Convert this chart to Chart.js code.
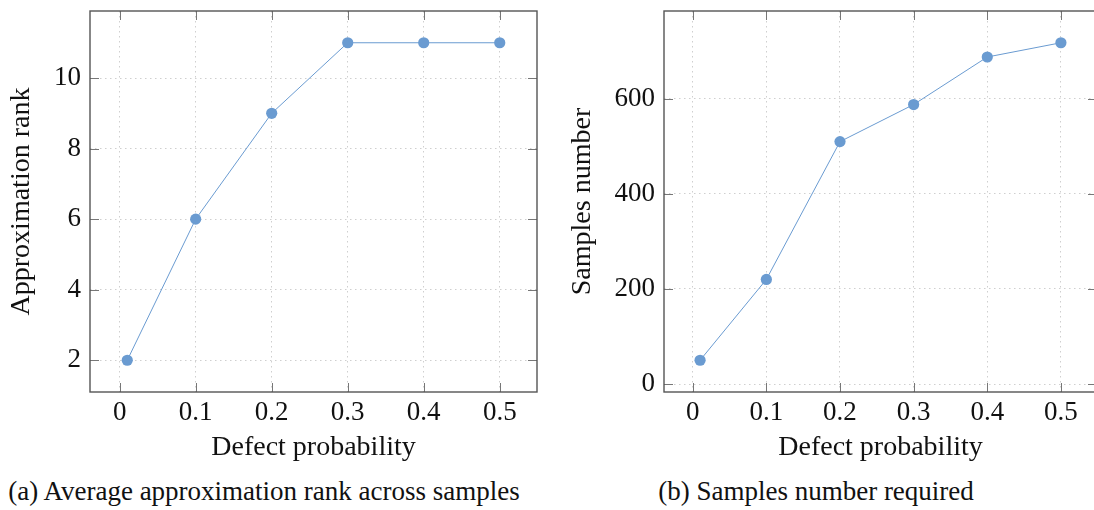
<!DOCTYPE html>
<html>
<head>
<meta charset="utf-8">
<title>Defect probability plots</title>
<script src="https://cdn.jsdelivr.net/npm/chart.js@4"></script>
<style>
  html, body { margin: 0; padding: 0; background: #fff; overflow: hidden; }
  #page { position: relative; width: 1094px; height: 510px; overflow: hidden; }
  canvas { position: absolute; top: 0; }
  #rankChart { left: 0; }
  #samplesChart { left: 560px; }
  .caption {
    position: absolute;
    top: 476px;
    font-family: "Liberation Serif", serif;
    font-size: 27px;
    color: #111;
    white-space: nowrap;
    transform: translateX(-50%);
  }
</style>
</head>
<body>
<div id="page">
  <canvas id="rankChart" width="550" height="470"></canvas>
  <canvas id="samplesChart" width="550" height="470"></canvas>
  <div class="caption" style="left:264px">(a) Average approximation rank across samples</div>
  <div class="caption" style="left:816px">(b) Samples number required</div>
</div>
<script>
// ----- Data -----
const defectProb = [0.01, 0.1, 0.2, 0.3, 0.4, 0.5];
const rankValues = [2, 6, 9, 11, 11, 11];
const sampleValues = [50, 220, 510, 588, 688, 718];

const xTicks = [0, 0.1, 0.2, 0.3, 0.4, 0.5];
const rankTicks = [2, 4, 6, 8, 10];
const sampleTicks = [0, 200, 400, 600];

// ----- Style -----
const lineColor = "#6a9bd1";
const fontFamily = "'Liberation Serif', 'DejaVu Serif', serif";
const textColor = "#111";
const tickSize = 27;
const titleSize = 28;

// axis limits padded by 10% of the data range on each side
function enlarge(values) {
  const lo = Math.min(...values);
  const hi = Math.max(...values);
  const pad = 0.1 * (hi - lo);
  return { min: lo - pad, max: hi + pad };
}

// fixed axis box, no extra room reserved for overhanging labels
function fixAxis(s, size) {
  if (s.isHorizontal()) s.height = size; else s.width = size;
  s.paddingLeft = s.paddingRight = s.paddingTop = s.paddingBottom = 0;
}

// box frame plus short tick marks drawn inward on all four sides
const boxFrame = {
  id: "boxFrame",
  beforeDatasetsDraw(chart) {
    const { ctx, chartArea: a, scales } = chart;
    const len = 9;
    ctx.save();
    ctx.strokeStyle = "#777";
    ctx.lineWidth = 1;
    ctx.beginPath();
    scales.x.ticks.forEach(t => {
      const px = Math.round(scales.x.getPixelForValue(t.value)) + 0.5;
      ctx.moveTo(px, a.top); ctx.lineTo(px, a.top + len);
      ctx.moveTo(px, a.bottom); ctx.lineTo(px, a.bottom - len);
    });
    scales.y.ticks.forEach(t => {
      const py = Math.round(scales.y.getPixelForValue(t.value)) + 0.5;
      ctx.moveTo(a.left, py); ctx.lineTo(a.left + len, py);
      ctx.moveTo(a.right, py); ctx.lineTo(a.right - len, py);
    });
    ctx.stroke();
    ctx.restore();
  },
  afterDraw(chart) {
    const { ctx, chartArea: a } = chart;
    ctx.save();
    ctx.strokeStyle = "#555";
    ctx.lineWidth = 1.4;
    ctx.strokeRect(a.left, a.top, a.right - a.left, a.bottom - a.top);
    ctx.restore();
  }
};

function makeChart(canvasId, yValues, yTicks, yTitle, yAxisWidth, yTitlePad) {
  const xLim = enlarge(defectProb);
  const yLim = enlarge(yValues);
  const ctx = document.getElementById(canvasId).getContext("2d");
  return new Chart(ctx, {
    type: "scatter",
    data: {
      datasets: [{
        data: defectProb.map((p, i) => ({ x: p, y: yValues[i] })),
        showLine: true,
        borderColor: lineColor,
        backgroundColor: lineColor,
        borderWidth: 1,
        pointRadius: 5.6,
        pointBorderWidth: 0,
        clip: false
      }]
    },
    options: {
      responsive: false,
      animation: false,
      devicePixelRatio: 1,
      layout: { padding: { top: 11, right: 13, bottom: 0, left: 0 } },
      plugins: { legend: { display: false }, tooltip: { enabled: false } },
      scales: {
        x: {
          type: "linear",
          min: xLim.min,
          max: xLim.max,
          afterBuildTicks: s => { s.ticks = xTicks.map(v => ({ value: v })); },
          afterFit: s => fixAxis(s, 78),
          grid: { color: "#cfcfcf", lineWidth: 1, drawTicks: false },
          border: { display: false, dash: [1.5, 3.5] },
          ticks: {
            padding: 5,
            color: textColor,
            font: { family: fontFamily, size: tickSize },
            maxRotation: 0,
            callback: v => String(v)
          },
          title: {
            display: true,
            text: "Defect probability",
            color: textColor,
            font: { family: fontFamily, size: titleSize },
            padding: { top: 0, bottom: 6 }
          }
        },
        y: {
          min: yLim.min,
          max: yLim.max,
          afterBuildTicks: s => { s.ticks = yTicks.map(v => ({ value: v })); },
          afterFit: s => fixAxis(s, yAxisWidth),
          grid: { color: "#cfcfcf", lineWidth: 1, drawTicks: false },
          border: { display: false, dash: [1.5, 3.5] },
          ticks: {
            padding: 9,
            color: textColor,
            font: { family: fontFamily, size: tickSize },
            callback: v => String(v)
          },
          title: {
            display: true,
            text: yTitle,
            color: textColor,
            font: { family: fontFamily, size: titleSize },
            padding: { top: yTitlePad, bottom: 0 }
          }
        }
      }
    },
    plugins: [boxFrame]
  });
}

makeChart("rankChart", rankValues, rankTicks, "Approximation rank", 90, 5);
makeChart("samplesChart", sampleValues, sampleTicks, "Samples number", 104, 6);
</script>
</body>
</html>
